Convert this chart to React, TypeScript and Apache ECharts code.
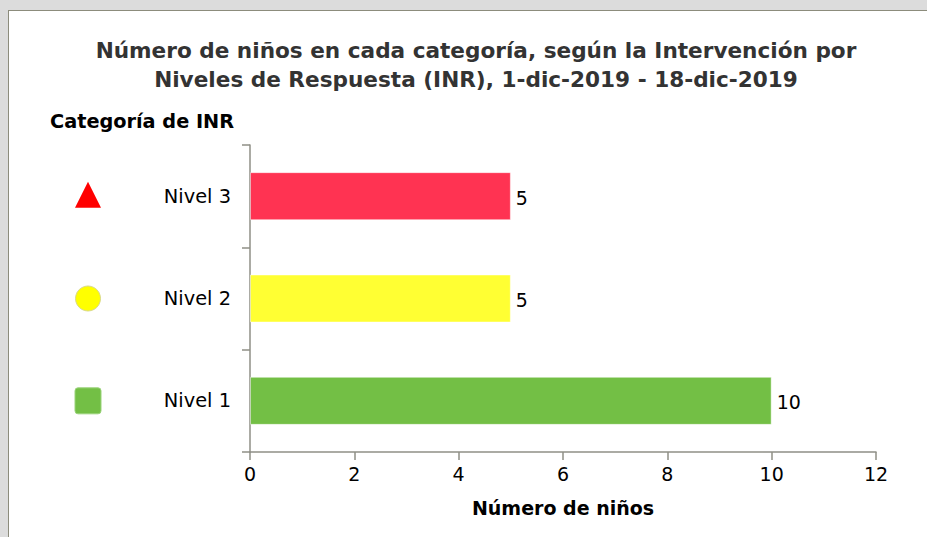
import React, { useEffect, useRef } from "react";
import * as echarts from "echarts";

const categories = ["Nivel 1", "Nivel 2", "Nivel 3"];
const values = [10, 5, 5];
const barColors = ["#73bf45", "#ffff33", "#ff3352"];
const iconShapes = ["square", "circle", "triangle"];
const iconColors = ["#73bf45", "#ffff00", "#ff0000"];
const xTickLabels = ["0", "2", "4", "6", "8", "10", "12"];
const titleLines = [
  "Número de niños en cada categoría, según la Intervención por",
  "Niveles de Respuesta (INR), 1-dic-2019 - 18-dic-2019",
];
const legendTitle = "Categoría de INR";
const xAxisName = "Número de niños";

const FONT = "DejaVu Sans";
const AXIS_COLOR = "#8f8f86";

export default function App() {
  const ref = useRef<HTMLDivElement>(null);

  useEffect(() => {
    if (!ref.current) return;
    const chart = echarts.init(ref.current, undefined, { renderer: "svg" });
    const xMax = Number(xTickLabels[xTickLabels.length - 1]);
    const xInterval = Number(xTickLabels[1]) - Number(xTickLabels[0]);
    chart.setOption({
      animation: false,
      backgroundColor: "transparent",
      title: {
        text: titleLines.join("\n"),
        left: 471,
        top: 31,
        textAlign: "center",
        textStyle: {
          fontFamily: FONT,
          fontSize: 21.6,
          fontWeight: "bold",
          color: "#333333",
          lineHeight: 29,
        },
      },
      grid: { left: 250, right: 51, top: 145, bottom: 85, containLabel: false },
      xAxis: {
        type: "value",
        min: 0,
        max: xMax,
        interval: xInterval,
        name: xAxisName,
        nameLocation: "middle",
        nameGap: 46,
        nameTextStyle: { fontFamily: FONT, fontSize: 19, fontWeight: "bold", color: "#000" },
        axisLine: { show: true, lineStyle: { color: AXIS_COLOR, width: 1.5 } },
        axisTick: { show: true, length: 8, lineStyle: { color: AXIS_COLOR, width: 1.5 } },
        axisLabel: { fontFamily: FONT, fontSize: 19, color: "#000", margin: 12 },
        splitLine: { show: false },
      },
      yAxis: {
        type: "category",
        data: categories,
        axisLine: { show: true, lineStyle: { color: AXIS_COLOR, width: 1.5 } },
        axisTick: { show: true, length: 8, lineStyle: { color: AXIS_COLOR, width: 1.5 } },
        axisLabel: { fontFamily: FONT, fontSize: 19.4, color: "#000", margin: 19 },
      },
      series: [
        {
          type: "bar",
          barWidth: 48,
          data: values.map((v, i) => ({
            value: v,
            itemStyle: {
              color: barColors[i],
              borderColor: "rgba(255,255,255,0.45)",
              borderWidth: 1,
            },
          })),
          label: {
            show: true,
            position: "right",
            distance: 5,
            offset: [0, 1.5],
            fontFamily: FONT,
            fontSize: 19,
            color: "#000",
          },
        },
      ],
    });

    const cx = 88;
    const half = 13;
    const icons: any[] = categories.map((cat, i) => {
      const y = chart.convertToPixel({ yAxisIndex: 0 }, cat) as number;
      const shape = iconShapes[i];
      if (shape === "triangle") {
        const yc = y - 1.5;
        return {
          type: "polygon",
          shape: { points: [[cx - half, yc + half], [cx + half, yc + half], [cx, yc - half]] },
          style: { fill: iconColors[i] },
        };
      }
      if (shape === "circle") {
        return {
          type: "circle",
          shape: { cx, cy: y, r: 12.5 },
          style: { fill: iconColors[i], stroke: "#d9d98a", lineWidth: 1 },
        };
      }
      return {
        type: "rect",
        shape: { x: cx - half, y: y - half, width: half * 2, height: half * 2, r: 3 },
        style: { fill: iconColors[i], stroke: "#9ad37a", lineWidth: 1 },
      };
    });
    chart.setOption({
      graphic: [
        {
          type: "text",
          left: 50,
          top: 112,
          style: {
            text: legendTitle,
            font: `bold 19.3px "${FONT}"`,
            fill: "#000",
          },
        },
        ...icons,
      ],
    });

    return () => chart.dispose();
  }, []);

  return (
    <div style={{ position: "fixed", inset: 0, background: "#dcdcdc", overflow: "hidden" }}>
      <div
        style={{
          position: "absolute",
          left: 8,
          top: 10,
          width: 1000,
          height: 600,
          background: "#fff",
          borderTop: "1px solid #8c8c7c",
          borderLeft: "1px solid #8c8c7c",
        }}
      />
      <div ref={ref} style={{ position: "absolute", left: 0, top: 0, width: 927, height: 537 }} />
    </div>
  );
}
